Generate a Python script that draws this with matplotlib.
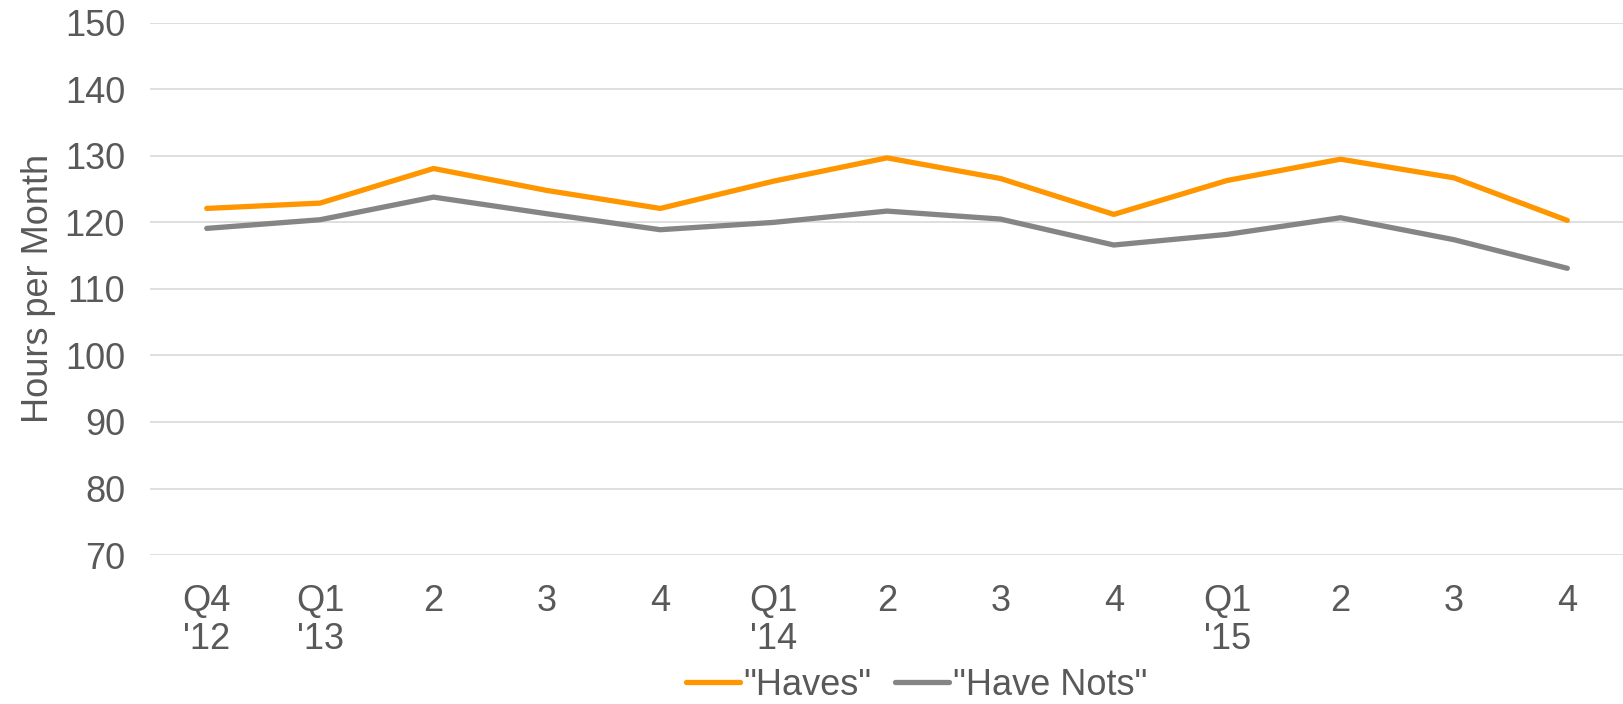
import matplotlib.pyplot as plt

plt.rcParams['font.family'] = ['Liberation Sans', 'DejaVu Sans']

quarters = ["Q4\n'12", "Q1\n'13", "2", "3", "4", "Q1\n'14", "2", "3", "4",
            "Q1\n'15", "2", "3", "4"]
haves = [122.1, 122.9, 128.1, 124.8, 122.1, 126.2, 129.7, 126.6, 121.2,
         126.3, 129.5, 126.7, 120.3]
have_nots = [119.1, 120.4, 123.8, 121.3, 118.9, 120.0, 121.7, 120.5, 116.6,
             118.2, 120.7, 117.4, 113.1]

text_color = '#595959'

fig = plt.figure(figsize=(16.24, 7.04), dpi=100)
ax = fig.add_axes([0.0924, 0.2116, 0.9076, 0.756])

x = range(len(quarters))
ax.plot(x, haves, color='#FF9600', linewidth=3.8, label='"Haves"', solid_capstyle='round')
ax.plot(x, have_nots, color='#858585', linewidth=3.8, label='"Have Nots"', solid_capstyle='round')

ax.set_ylim(70, 150)
ax.set_xlim(-0.5, len(quarters) - 0.5)
ax.set_yticks(range(70, 151, 10))
ax.set_xticks(list(x))
ax.set_xticklabels(quarters, linespacing=1.1, ha='center', va='top')
ax.grid(axis='y', color='#D9D9D9', linewidth=1.2)
ax.set_axisbelow(True)
for s in ax.spines.values():
    s.set_visible(False)
ax.tick_params(axis='both', length=0, labelsize=26, labelcolor=text_color)
ax.tick_params(axis='y', pad=18)
ax.tick_params(axis='x', pad=21)
ax.set_ylabel("Hours per Month", fontsize=26, color=text_color, labelpad=6)

ax.legend(loc='center', bbox_to_anchor=(0.52, -0.245), ncol=2, frameon=False,
          fontsize=26, labelcolor=text_color, handlelength=1.5, handletextpad=0.1,
          columnspacing=0.65, borderpad=0)

fig.savefig('out.png', dpi=100)
